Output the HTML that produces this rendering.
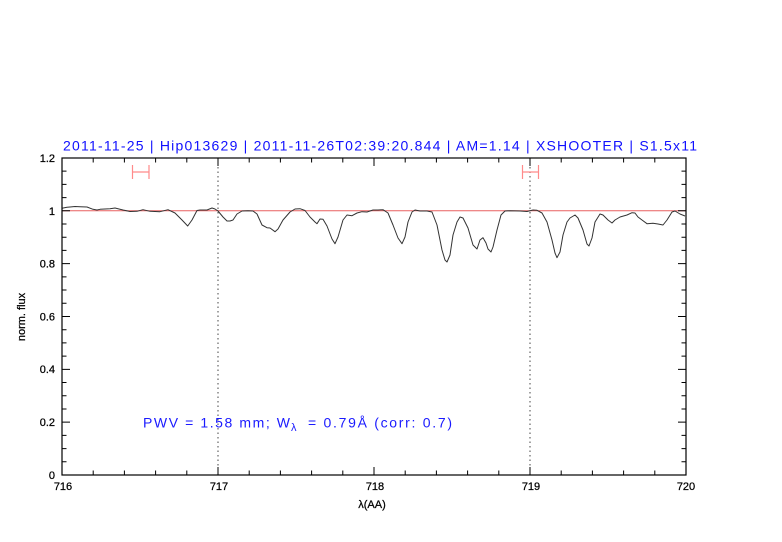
<!DOCTYPE html>
<html><head><meta charset="utf-8"><style>
html,body{margin:0;padding:0;background:#fff;}
svg{display:block;}
text{font-family:"Liberation Sans",sans-serif;}
</style></head><body>
<svg width="782" height="542" viewBox="0 0 782 542" xmlns="http://www.w3.org/2000/svg">
<rect width="782" height="542" fill="#fff"/>
<!-- title -->
<text x="63" y="150.5" font-size="14" fill="#1010ff" textLength="634" lengthAdjust="spacing">2011-11-25 | Hip013629 | 2011-11-26T02:39:20.844 | AM=1.14 | XSHOOTER | S1.5x11</text>
<!-- dotted verticals -->
<path d="M218 158V475M530 158V475" stroke="#444" stroke-width="1" stroke-dasharray="1.5,3" fill="none"/>
<!-- reference line -->
<path d="M62 210.8H686" stroke="#e86060" stroke-width="1" fill="none"/>
<!-- error bars -->
<g stroke="#ff8a8a" stroke-width="1.2" fill="none">
<path d="M132.5 172H149M132.5 165V179M149 165V179"/>
<path d="M522.5 172H538.5M522.5 165V179M538.5 165V179"/>
</g>
<!-- spectrum -->
<polyline fill="none" stroke="#333" stroke-width="1" stroke-linejoin="round" points="62,208.3 67,207.3 70,207 75,206.5 80,206.7 87,207 93,209.3 97,210 100,209.3 110,208.7 115,208 123,210 130,211.5 137,211.3 143,209.7 150,211.3 160,211.7 168,209.7 175,213 182,220 187.7,226 192,220 197,210.5 200,210 207,210 212,208 215,209 218,211 223,217 227,221 230,221 233,220 237,214 242,211 248,210.7 253,211 257,214 262,225 267,227.7 270,228 275,231.7 278,229 283,220 290,212 295,209 300,208.7 305,210.5 310,217 315,222 317,223.7 320,219 323,219.3 327,226 332,239 335,243.7 338,237 343,220 347,215 352,215.7 357,213 362,211.7 367,212 373,210 378,210 383,209.7 388,213 393,225 398,238 402,243.7 405,237 408,222 412,212 415,210 420,211 427,211 432,212 437,225 442,250 445,260 447,262 450,255 453,235 457,222 460,217 463,218 468,228 473,245 477,249 480,240 483,237.7 486,243 488,249 491,252 493,247 497,230 501,215 505,211 510,210.7 520,211 527,211.5 533,210 537,210.3 542,213 547,222 552,240 555,253 557,257.7 560,252 563,235 567,222 570,218 575,215 578,218 583,230 587,244 589,246 592,238 595,222 600,214 603,215 608,220 612,223 615,220 620,217 627,215 632,212.7 635,213 638,217 642,220 647,223.7 653,223.3 658,224 663,225 667,220 672,212 675,211 680,214 685,216"/>
<!-- frame -->
<rect x="62" y="158" width="624" height="317" fill="none" stroke="#000" stroke-width="1.2"/>
<!-- ticks -->
<g stroke="#000" stroke-width="1" fill="none">
<path d="M218 475v-8M374 475v-8M530 475v-8M218 158v8M374 158v8M530 158v8"/>
<path d="M93.2 475v-4.5M124.4 475v-4.5M155.6 475v-4.5M186.8 475v-4.5M249.2 475v-4.5M280.4 475v-4.5M311.6 475v-4.5M342.8 475v-4.5M405.2 475v-4.5M436.4 475v-4.5M467.6 475v-4.5M498.8 475v-4.5M561.2 475v-4.5M592.4 475v-4.5M623.6 475v-4.5M654.8 475v-4.5"/>
<path d="M93.2 158v4.5M124.4 158v4.5M155.6 158v4.5M186.8 158v4.5M249.2 158v4.5M280.4 158v4.5M311.6 158v4.5M342.8 158v4.5M405.2 158v4.5M436.4 158v4.5M467.6 158v4.5M498.8 158v4.5M561.2 158v4.5M592.4 158v4.5M623.6 158v4.5M654.8 158v4.5"/>
<path d="M62 210.8h8M62 263.64h8M62 316.48h8M62 369.32h8M62 422.16h8M686 210.8h-8M686 263.64h-8M686 316.48h-8M686 369.32h-8M686 422.16h-8"/>
<path d="M62 461.79h4.5M62 448.58h4.5M62 435.37h4.5M62 408.95h4.5M62 395.74h4.5M62 382.53h4.5M62 356.11h4.5M62 342.9h4.5M62 329.69h4.5M62 303.27h4.5M62 290.06h4.5M62 276.85h4.5M62 250.43h4.5M62 237.22h4.5M62 224.01h4.5M62 197.59h4.5M62 184.38h4.5M62 171.17h4.5"/>
<path d="M686 461.79h-4.5M686 448.58h-4.5M686 435.37h-4.5M686 408.95h-4.5M686 395.74h-4.5M686 382.53h-4.5M686 356.11h-4.5M686 342.9h-4.5M686 329.69h-4.5M686 303.27h-4.5M686 290.06h-4.5M686 276.85h-4.5M686 250.43h-4.5M686 237.22h-4.5M686 224.01h-4.5M686 197.59h-4.5M686 184.38h-4.5M686 171.17h-4.5"/>
</g>
<!-- y tick labels -->
<g font-size="11" fill="#000" text-anchor="end" stroke="#000" stroke-width="0.25">
<text x="55" y="479">0</text>
<text x="55" y="426">0.2</text>
<text x="55" y="373">0.4</text>
<text x="55" y="320.5">0.6</text>
<text x="55" y="267.5">0.8</text>
<text x="55" y="215">1</text>
<text x="55" y="162">1.2</text>
</g>
<!-- x tick labels -->
<g font-size="11" fill="#000" text-anchor="middle" stroke="#000" stroke-width="0.25">
<text x="63" y="490">716</text>
<text x="219" y="490">717</text>
<text x="375" y="490">718</text>
<text x="531" y="490">719</text>
<text x="686" y="490">720</text>
</g>
<text x="372" y="508" font-size="11" fill="#000" text-anchor="middle" stroke="#000" stroke-width="0.25">λ(AA)</text>
<text transform="translate(25,317) rotate(-90)" font-size="11" fill="#000" text-anchor="middle" stroke="#000" stroke-width="0.25">norm. flux</text>
<!-- PWV annotation -->
<g font-size="14" fill="#1a1aff">
<text x="143" y="427.5" textLength="147" lengthAdjust="spacing">PWV = 1.58 mm; W</text>
<text x="291" y="431" font-size="11">λ</text>
<text x="308" y="427.5" textLength="144" lengthAdjust="spacing">= 0.79Å (corr: 0.7)</text>
</g>
</svg>
</body></html>
